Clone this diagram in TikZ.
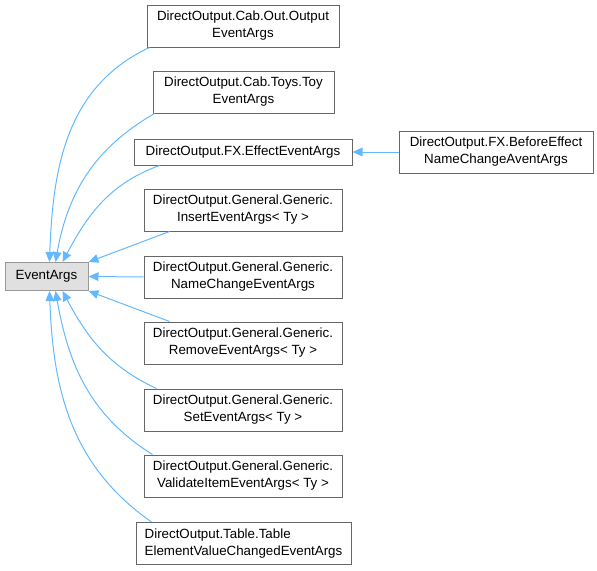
\documentclass[tikz,border=0pt]{standalone}
\usepackage{fontspec}
\setmainfont{Liberation Sans}
\usetikzlibrary{arrows.meta,positioning,calc}
\definecolor{Ink}{HTML}{000000}
\definecolor{Frame}{HTML}{666666}
\definecolor{BaseFrame}{HTML}{999999}
\definecolor{BaseFill}{HTML}{E0E0E0}
\definecolor{Link}{HTML}{63B8FF}
\tikzset{
  classbox/.style={draw=Frame,fill=white,line width=0.75pt,minimum height=31.5pt,align=center,font=\fontsize{10}{12.75}\selectfont,text=Ink,inner sep=2pt},
  basebox/.style={draw=BaseFrame,fill=BaseFill,line width=0.75pt,minimum height=21pt,minimum width=62.25pt,align=center,font=\fontsize{10}{12.75}\selectfont,text=Ink,inner sep=2pt},
  line/.style={-{Triangle[length=7.5pt,width=6.5pt]},draw=Link,line width=0.75pt}
}

\begin{document}
\begin{tikzpicture}[x=0.75pt,y=0.75pt]
  \useasboundingbox (0,0) rectangle (597,-571);
  \node[basebox] (eventargs) at (46.5,-276.5) {EventArgs};
  \node[classbox,minimum width=144pt] (cabout) at (243,-26) {DirectOutput.Cab.Out.Output\\EventArgs};
  \node[classbox,minimum width=135.75pt] (cabtoys) at (243.5,-92) {DirectOutput.Cab.Toys.Toy\\EventArgs};
  \node[classbox,minimum width=163.5pt,minimum height=19.5pt] (effect) at (243,-152) {DirectOutput.FX.EffectEventArgs};
  \node[classbox,minimum width=145.5pt,right=34.5pt of effect] (before) {DirectOutput.FX.BeforeEffect\\NameChangeAventArgs};
  \node[classbox,minimum width=148.5pt] (insert) at (243,-210) {DirectOutput.General.Generic.\\InsertEventArgs< Ty >};
  \node[classbox,minimum width=148.5pt] (namechange) at (243,-277) {DirectOutput.General.Generic.\\NameChangeEventArgs};
  \node[classbox,minimum width=148.5pt] (remove) at (243,-343) {DirectOutput.General.Generic.\\RemoveEventArgs< Ty >};
  \node[classbox,minimum width=148.5pt] (set) at (243,-410) {DirectOutput.General.Generic.\\SetEventArgs< Ty >};
  \node[classbox,minimum width=148.5pt] (validate) at (243,-476) {DirectOutput.General.Generic.\\ValidateItemEventArgs< Ty >};
  \node[classbox,minimum width=161.25pt,align=left] (table) at (243.5,-543.5) {DirectOutput.Table.Table\\ElementValueChangedEventArgs};
  % edges into the base class
  \draw[line] ($(cabout.south west)+(3,0)$) to[out=205,in=88] ($(eventargs.north)+(3,0)$);
  \draw[line] ($(cabtoys.south west)+(2,0)$) to[out=210,in=80] ($(eventargs.north)+(9,0)$);
  \draw[line] ($(effect.south west)+(26,0)$) to[out=200,in=62] ($(eventargs.north)+(16,0)$);
  \draw[line] ($(insert.south west)+(26,0)$) -- (eventargs.north east);
  \draw[line] (namechange.west) -- (eventargs.east);
  \draw[line] ($(remove.north west)+(26,0)$) -- (eventargs.south east);
  \draw[line] ($(set.north west)+(13,0)$) to[out=155,in=-62] ($(eventargs.south)+(16,0)$);
  \draw[line] ($(validate.north west)+(9,0)$) to[out=148,in=-80] ($(eventargs.south)+(9,0)$);
  \draw[line] ($(table.north west)+(16,0)$) to[out=145,in=-88] ($(eventargs.south)+(3,0)$);
  \draw[line] (before) -- (effect);
\end{tikzpicture}
\end{document}
